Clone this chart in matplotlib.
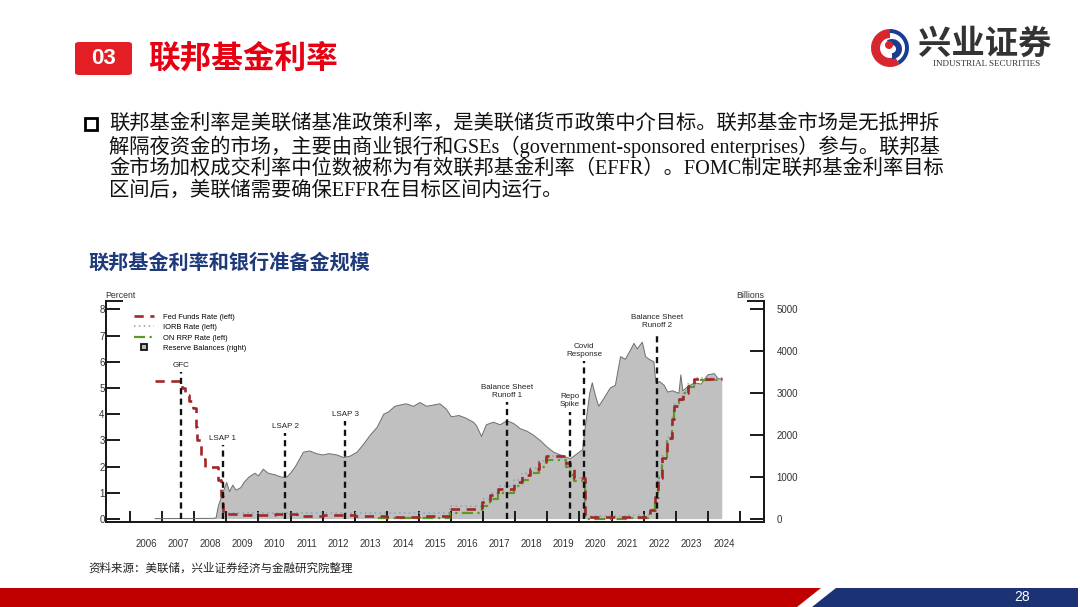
import matplotlib
matplotlib.use("Agg")
import matplotlib.pyplot as plt
from matplotlib.patches import FancyBboxPatch, Polygon, Rectangle, Wedge, Circle
from matplotlib.lines import Line2D
import numpy as np

# ---------------- data ----------------
reserve_years = [2006.78, 2008.60, 2008.68, 2008.75, 2008.86, 2008.95, 2009.01, 2009.10, 2009.20, 2009.30,
                 2009.45, 2009.55, 2009.70, 2009.89, 2010.00, 2010.15, 2010.30, 2010.50, 2010.72, 2010.88,
                 2011.00, 2011.15, 2011.40, 2011.60, 2011.81, 2012.00, 2012.20, 2012.44, 2012.65, 2012.85,
                 2013.07, 2013.27, 2013.48, 2013.70, 2013.90, 2014.06, 2014.25, 2014.42, 2014.60, 2014.83,
                 2015.03, 2015.24, 2015.45, 2015.65, 2015.85, 2016.01, 2016.25, 2016.47, 2016.70, 2016.80,
                 2016.95, 2017.10, 2017.32, 2017.53, 2017.74, 2017.95, 2018.16, 2018.37, 2018.57, 2018.78,
                 2018.99, 2019.20, 2019.41, 2019.62, 2019.72, 2019.93, 2020.10, 2020.17, 2020.32, 2020.40,
                 2020.50, 2020.60, 2020.76, 2020.96, 2021.12, 2021.28, 2021.43, 2021.59, 2021.70, 2021.80,
                 2021.96, 2022.06, 2022.17, 2022.32, 2022.38, 2022.50, 2022.64, 2022.75, 2022.90, 2023.10,
                 2023.16, 2023.22, 2023.37, 2023.58, 2023.79, 2024.00, 2024.20, 2024.33, 2024.45]
reserve_billions = [12, 18, 30, 310, 560, 750, 875, 655, 810, 690,
                    750, 875, 1000, 1095, 1030, 1190, 1095, 1060, 1000, 1000,
                    1095, 1250, 1595, 1625, 1560, 1530, 1560, 1530, 1470, 1500,
                    1595, 1780, 2000, 2190, 2500, 2560, 2690, 2720, 2750, 2690,
                    2780, 2690, 2720, 2750, 2625, 2440, 2470, 2405, 2310, 2220,
                    1970, 2250, 2310, 2250, 2345, 2280, 2155, 2095, 2000, 1875,
                    1720, 1595, 1530, 1470, 1440, 1560, 1655, 2125, 3000, 3250,
                    2940, 2690, 2875, 3125, 3190, 3875, 3810, 4030, 4190, 4060,
                    4220, 3875, 3810, 3750, 3250, 3280, 3190, 3030, 3060, 3000,
                    3440, 3060, 3155, 3250, 3220, 3440, 3470, 3345, 3345]

ffr_years = [2006.78, 2007.62, 2007.72, 2007.83, 2007.95, 2008.05, 2008.09, 2008.22, 2008.33, 2008.75,
             2008.82, 2008.90, 2009.50, 2010.50, 2011.20, 2012.00, 2013.00, 2014.00, 2015.00, 2015.96,
             2016.96, 2017.20, 2017.46, 2017.96, 2018.22, 2018.46, 2018.74, 2018.97, 2019.58, 2019.72,
             2019.83, 2020.17, 2022.21, 2022.35, 2022.46, 2022.58, 2022.73, 2022.87, 2022.96, 2023.09,
             2023.24, 2023.38, 2023.57, 2024.45]
ffr_rate = [5.25, 5.02, 4.75, 4.50, 4.25, 3.50, 3.00, 2.30, 2.00, 1.50,
            0.90, 0.20, 0.17, 0.19, 0.10, 0.14, 0.12, 0.08, 0.13, 0.37,
            0.66, 0.91, 1.16, 1.42, 1.68, 1.91, 2.18, 2.40, 2.13, 1.90,
            1.55, 0.08, 0.33, 0.83, 1.58, 2.33, 3.08, 3.83, 4.33, 4.58,
            4.83, 5.08, 5.33, 5.33]

iorb_years = [2008.90, 2015.96, 2016.96, 2017.20, 2017.46, 2017.96, 2018.22, 2018.46, 2018.74, 2018.97,
              2019.34, 2019.58, 2019.72, 2019.83, 2020.17, 2021.46, 2022.21, 2022.35, 2022.46, 2022.58,
              2022.73, 2022.87, 2022.96, 2023.09, 2023.24, 2023.38, 2023.57, 2024.45]
iorb_rate = [0.25, 0.50, 0.75, 1.00, 1.25, 1.50, 1.75, 1.95, 2.20, 2.40,
             2.35, 2.10, 1.80, 1.55, 0.10, 0.15, 0.40, 0.90, 1.65, 2.40,
             3.15, 3.90, 4.40, 4.65, 4.90, 5.15, 5.40, 5.40]

rrp_years = [2013.72, 2015.96, 2016.96, 2017.20, 2017.46, 2017.96, 2018.22, 2018.46, 2018.74, 2018.97,
             2019.58, 2019.72, 2019.83, 2020.17, 2021.46, 2022.21, 2022.35, 2022.46, 2022.58, 2022.73,
             2022.87, 2022.96, 2023.09, 2023.24, 2023.38, 2023.57, 2024.45]
rrp_rate = [0.05, 0.25, 0.50, 0.75, 1.00, 1.25, 1.50, 1.75, 2.00, 2.25,
            2.00, 1.70, 1.45, 0.00, 0.05, 0.30, 0.80, 1.55, 2.30, 3.05,
            3.80, 4.30, 4.55, 4.80, 5.05, 5.30, 5.30]

event_labels = ["GFC", "LSAP 1", "LSAP 2", "LSAP 3", "Balance Sheet\nRunoff 1", "Repo\nSpike",
                "Covid\nResponse", "Balance Sheet\nRunoff 2"]
event_years = [2007.59, 2008.89, 2010.83, 2012.70, 2017.73, 2019.71, 2020.15, 2022.41]
event_tops = [5.62, 2.82, 3.28, 3.74, 4.48, 4.10, 6.03, 7.15]

year_labels = [str(y) for y in range(2006, 2025)]
left_ticks = [0, 1, 2, 3, 4, 5, 6, 7, 8]
right_ticks = [0, 1000, 2000, 3000, 4000, 5000]

legend_labels = ["Fed Funds Rate (left)", "IORB Rate (left)", "ON RRP Rate (left)", "Reserve Balances (right)"]

body_lines = [
    "联邦基金利率是美联储基准政策利率，是美联储货币政策中介目标。联邦基金市场是无抵押拆",
    "解隔夜资金的市场，主要由商业银行和GSEs（government-sponsored enterprises）参与。联邦基",
    "金市场加权成交利率中位数被称为有效联邦基金利率（EFFR）。FOMC制定联邦基金利率目标",
    "区间后，美联储需要确保EFFR在目标区间内运行。",
]

# ---------------- figure ----------------
W, H = 1080, 607
fig = plt.figure(figsize=(W / 100, H / 100), dpi=100)
fig.patch.set_facecolor("white")

def P(x, y):
    return (x / W, 1 - y / H)

CJK = ["Noto Sans CJK SC", "DejaVu Sans"]
SERIF_CJK = ["Liberation Serif", "Noto Sans CJK SC", "DejaVu Sans"]
SANS = ["Liberation Sans", "DejaVu Sans"]

# header box
hdr = FancyBboxPatch(P(75, 75), 57 / W, 33 / H, boxstyle="round,pad=0,rounding_size=0.004",
                     transform=fig.transFigure, facecolor="#E31E24", edgecolor="none")
fig.patches.append(hdr)
fig.text(*P(103.5, 59), "03", color="white", fontsize=16, fontweight="bold",
         family=SANS, ha="center", va="center")
fig.text(*P(148, 59), "联邦基金利率", color="#E60012", fontsize=22.8, fontweight="bold",
         family=CJK, ha="left", va="center")

# logo
lax = fig.add_axes([(890 - 20) / W, 1 - (48 + 20) / H, 40 / W, 40 / H])
lax.set_xlim(-1, 1); lax.set_ylim(-1, 1); lax.set_aspect("equal"); lax.axis("off")
lax.add_patch(Wedge((0, 0), 0.95, 90, 300, width=0.45, facecolor="#D7262E", edgecolor="none"))
lax.add_patch(Wedge((0, 0), 0.95, 300, 450, width=0.2, facecolor="#1B3D8F", edgecolor="none"))
lax.add_patch(Wedge((0.1, -0.05), 0.5, 270, 120, width=0.3, facecolor="#1B3D8F", edgecolor="none"))
lax.add_patch(Circle((-0.05, 0.15), 0.2, facecolor="#D7262E", edgecolor="none"))
fig.text(*P(985, 44), "兴业证券", color="#333333", fontsize=24, fontweight="bold",
         family=CJK, ha="center", va="center")
fig.text(*P(986.5, 64.5), "INDUSTRIAL SECURITIES", color="#333333", fontsize=6.5,
         family=["Liberation Serif"], ha="center", va="center")

# bullet box
fig.patches.append(Rectangle(P(85, 130), 12 / W, 12 / H, transform=fig.transFigure,
                             facecolor="white", edgecolor="black", linewidth=2))
# body
for i, line in enumerate(body_lines):
    fig.text(*P(109, 124 + i * 22.4), line, fontsize=14.6, family=SERIF_CJK,
             color="#111111", ha="left", va="center")

# chart title
fig.text(*P(88, 262), "联邦基金利率和银行准备金规模", color="#1F3A7A", fontsize=14.5,
         fontweight="bold", family=CJK, ha="left", va="center")

# source
fig.text(*P(88, 568), "资料来源：美联储，兴业证券经济与金融研究院整理", fontsize=8.3,
         family=CJK, color="#222222", ha="left", va="center")

# bottom band
red = Polygon([P(0, 588), P(821, 588), P(797, 607), P(0, 607)], closed=True,
              transform=fig.transFigure, facecolor="#C00000", edgecolor="none")
blue = Polygon([P(836, 588), P(1078, 588), P(1078, 607), P(812, 607)], closed=True,
               transform=fig.transFigure, facecolor="#1B3275", edgecolor="none")
fig.patches.extend([red, blue])
fig.text(*P(1022, 597), "28", color="white", fontsize=10, family=SANS, ha="center", va="center")

# ---------------- chart ----------------
L, R, T, B = 106, 764, 300.5, 522
ax2 = fig.add_axes([L / W, 1 - B / H, (R - L) / W, (B - T) / H])
ax = ax2.twinx()
ax.yaxis.set_label_position("left")
ax.yaxis.tick_left()
ax2.yaxis.tick_right()
ax2.yaxis.set_label_position("right")

xlo, xhi = 2005.25, 2025.75
ylo, yhi = -0.11, 8.34
ax.set_xlim(xlo, xhi); ax2.set_xlim(xlo, xhi)
ax.set_ylim(ylo, yhi)
ax2.set_ylim(ylo * 625, yhi * 625)

ax2.fill_between(reserve_years, 0, reserve_billions, facecolor="#C0C0C0", edgecolor="none", zorder=1)
ax2.plot(reserve_years, reserve_billions, color="#6E6E6E", lw=0.7, zorder=2)

ax.plot(iorb_years, iorb_rate, color="#8AA2B8", lw=1.1, ls=(0, (1, 2.2)), drawstyle="steps-post", zorder=3)
ax.plot(rrp_years, rrp_rate, color="#5E9A22", lw=1.6, ls=(0, (5, 2, 1, 2)), drawstyle="steps-post", zorder=4)
ax.plot(ffr_years, ffr_rate, color="#A0282B", lw=1.9, ls=(0, (3.5, 2.5)), drawstyle="steps-post", zorder=5)

for lab, yr, top in zip(event_labels, event_years, event_tops):
    ax.plot([yr, yr], [0, top], color="#111111", lw=1.7, ls=(0, (2.6, 1.8)), zorder=6)
    ax.text(yr, top + 0.12, lab, fontsize=5.8, family=SANS, color="#222222",
            ha="center", va="bottom", linespacing=1.2, zorder=7)

ax.set_zorder(ax2.get_zorder() + 1)
ax.patch.set_visible(False)

for a in (ax, ax2):
    a.spines["top"].set_visible(False)
    for s in ("left", "right", "bottom"):
        a.spines[s].set_linewidth(1.4)
        a.spines[s].set_color("#1A1A1A")

ax.set_yticks(left_ticks)
ax.set_yticklabels([str(t) for t in left_ticks])
ax2.set_yticks(right_ticks)
ax2.set_yticklabels([str(t) for t in right_ticks])
ax.tick_params(axis="y", direction="in", length=10, width=1.4, color="#1A1A1A",
               labelsize=7, labelcolor="#333333", pad=1)
ax2.tick_params(axis="y", direction="in", length=10, width=1.4, color="#1A1A1A",
                labelsize=7, labelcolor="#333333", pad=9)
for t in ax.get_yticklabels() + ax2.get_yticklabels():
    t.set_family(SANS)

years = list(range(2006, 2026))
ax2.set_xticks(years)
ax2.set_xticklabels([])
ax2.set_xticks([y + 0.5 for y in range(2006, 2025)], minor=True)
ax2.set_xticklabels(year_labels, minor=True)
ax2.tick_params(axis="x", which="major", direction="in", length=8, width=1.4, color="#1A1A1A")
ax2.tick_params(axis="x", which="minor", length=0, labelsize=7, labelcolor="#333333", pad=12)
for t in ax2.get_xticklabels(minor=True):
    t.set_family(SANS)
ax.tick_params(axis="x", which="both", length=0, labelbottom=False)

# top caps of the y spines
ax.plot([0, 16 / (R - L)], [1, 1], transform=ax.transAxes, color="#1A1A1A", lw=1.4, clip_on=False)
ax.plot([1 - 16 / (R - L), 1], [1, 1], transform=ax.transAxes, color="#1A1A1A", lw=1.4, clip_on=False)

fig.text(*P(105, 295), "Percent", fontsize=6.3, family=SANS, color="#333333", ha="left", va="center")
fig.text(*P(764, 295), "Billions", fontsize=6.3, family=SANS, color="#333333", ha="right", va="center")

handles = [
    Line2D([], [], color="#A0282B", lw=1.9, ls=(0, (3.5, 2.5))),
    Line2D([], [], color="#8AA2B8", lw=1.1, ls=(0, (1, 2.2))),
    Line2D([], [], color="#5E9A22", lw=1.6, ls=(0, (5, 2, 1, 2))),
    Line2D([], [], color="#111111", lw=0, marker="s", markersize=4, markerfacecolor="#BBBBBB",
           markeredgecolor="#111111", markeredgewidth=1.3),
]
leg = ax.legend(handles, legend_labels, loc="upper left", bbox_to_anchor=(0.038, 0.955),
                frameon=False, handlelength=2.6, handletextpad=1.3,
                labelspacing=0.42, borderaxespad=0, prop={"family": SANS, "size": 5.4})

fig.savefig("out.png", dpi=100, facecolor="white")
